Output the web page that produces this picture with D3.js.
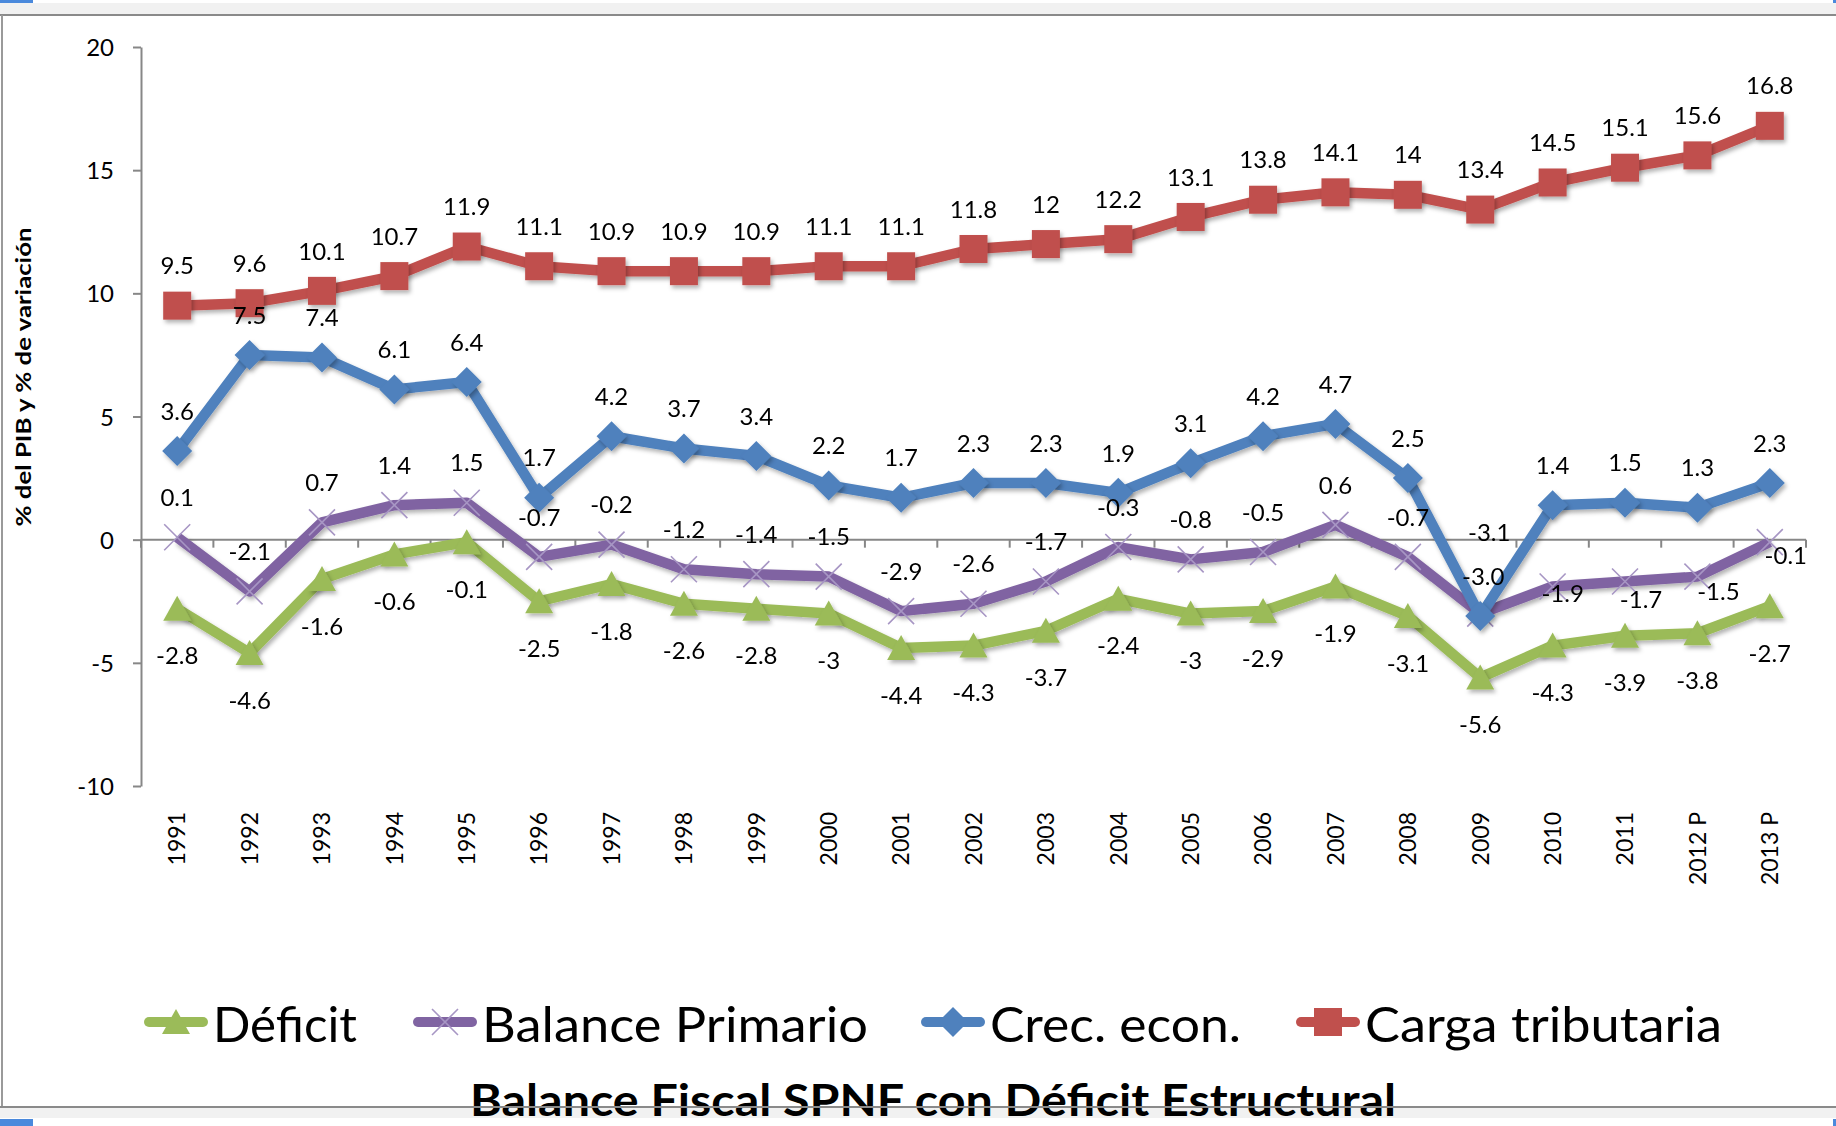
<!DOCTYPE html>
<html><head><meta charset="utf-8">
<script src="https://cdn.jsdelivr.net/npm/d3@7"></script>
<style>
body{margin:0;background:#fff;}
svg{display:block;}
text{font-family:Lato,"Open Sans",sans-serif;fill:#000;}
</style>
</head><body>
<svg id="c" width="1836" height="1126"></svg>
<script>
// ---------- DATA ----------
const years = ["1991","1992","1993","1994","1995","1996","1997","1998","1999","2000","2001","2002","2003","2004","2005","2006","2007","2008","2009","2010","2011","2012 P","2013 P"];
const deficit = [-2.8,-4.6,-1.6,-0.6,-0.1,-2.5,-1.8,-2.6,-2.8,-3,-4.4,-4.3,-3.7,-2.4,-3,-2.9,-1.9,-3.1,-5.6,-4.3,-3.9,-3.8,-2.7];
const balancePrimario = [0.1,-2.1,0.7,1.4,1.5,-0.7,-0.2,-1.2,-1.4,-1.5,-2.9,-2.6,-1.7,-0.3,-0.8,-0.5,0.6,-0.7,-3.0,-1.9,-1.7,-1.5,-0.1];
const crecEcon = [3.6,7.5,7.4,6.1,6.4,1.7,4.2,3.7,3.4,2.2,1.7,2.3,2.3,1.9,3.1,4.2,4.7,2.5,-3.1,1.4,1.5,1.3,2.3];
const cargaTributaria = [9.5,9.6,10.1,10.7,11.9,11.1,10.9,10.9,10.9,11.1,11.1,11.8,12,12.2,13.1,13.8,14.1,14,13.4,14.5,15.1,15.6,16.8];
const seriesNames = ["Déficit","Balance Primario","Crec. econ.","Carga tributaria"];
const yTicks = [20,15,10,5,0,-5,-10];
const yDomain = [-10,20];
const labelTextOverride = {"Balance Primario|2009":"-3.0"};
const titleText = "Balance Fiscal SPNF con Déficit Estructural";
const yTitleText = "% del PIB y % de variación";

// ---------- STYLE / LAYOUT ----------
const seriesStyle = {
  "Déficit":          {color:"#9BBB59", marker:"triangle", labelPos:"below"},
  "Balance Primario": {color:"#8064A2", marker:"x",        labelPos:"above"},
  "Crec. econ.":      {color:"#4F81BD", marker:"diamond",  labelPos:"above"},
  "Carga tributaria": {color:"#C0504D", marker:"square",   labelPos:"above"}
};
const labelNudge = {
  "Crec. econ.|2009":[9,-44],
  "Balance Primario|2009":[3,3],
  "Balance Primario|2010":[10,47],
  "Balance Primario|2011":[16,58],
  "Balance Primario|2012 P":[21,55],
  "Balance Primario|2013 P":[16,53]
};
const legendX = [144,413,921,1296];
const legendTextLen = [144,386,251,357];

const seriesValues = {
  "Déficit":deficit, "Balance Primario":balancePrimario,
  "Crec. econ.":crecEcon, "Carga tributaria":cargaTributaria
};

const svg = d3.select("#c");
const defs = svg.append("defs");
const f = defs.append("filter").attr("id","sh").attr("x","-30%").attr("y","-30%").attr("width","160%").attr("height","160%");
f.append("feDropShadow").attr("dx",2).attr("dy",3).attr("stdDeviation",2).attr("flood-color","#000").attr("flood-opacity",0.3);

// chrome
svg.append("rect").attr("x",0).attr("y",0).attr("width",1836).attr("height",1126).attr("fill","#fff");
svg.append("rect").attr("x",0).attr("y",3).attr("width",1836).attr("height",12).attr("fill","#f1f1f1");
svg.append("rect").attr("x",0).attr("y",0).attr("width",33).attr("height",3).attr("fill","#4a89dc");
svg.append("rect").attr("x",1833).attr("y",0).attr("width",3).attr("height",3).attr("fill","#4a89dc");
svg.append("rect").attr("x",0).attr("y",1108).attr("width",1836).attr("height",10).attr("fill","#f1f1f1");
svg.append("rect").attr("x",0).attr("y",1119).attr("width",33).attr("height",7).attr("fill","#4a89dc");
svg.append("rect").attr("x",1833).attr("y",1119).attr("width",3).attr("height",7).attr("fill","#4a89dc");
svg.append("line").attr("x1",0).attr("x2",1836).attr("y1",15).attr("y2",15).attr("stroke","#8a8a8a").attr("stroke-width",2);
svg.append("line").attr("x1",2).attr("x2",2).attr("y1",15).attr("y2",1107).attr("stroke","#9a9a9a").attr("stroke-width",2);

// scales
const plotL = 141, plotR = 1806, plotT = 47, plotB = 786;
const x = d3.scaleBand().domain(years).range([plotL,plotR]).padding(0);
const cx = d => x(d) + x.bandwidth()/2;
const y = d3.scaleLinear().domain(yDomain).range([plotB,plotT]);
const y0 = y(0);

// y axis
const yAxis = svg.append("g").attr("transform",`translate(${plotL},0)`)
  .call(d3.axisLeft(y).tickValues(yTicks).tickSize(8).tickSizeOuter(0).tickPadding(19).tickFormat(d=>String(d)));
yAxis.select(".domain").attr("stroke","#878787").attr("stroke-width",2);
yAxis.selectAll(".tick line").attr("stroke","#878787").attr("stroke-width",2);
yAxis.selectAll(".tick text").attr("font-size",24).attr("font-family","Lato").attr("fill","#000").attr("dy","0.36em");

// x axis at zero
const xg = svg.append("g");
xg.append("line").attr("x1",plotL).attr("x2",plotR).attr("y1",y0).attr("y2",y0).attr("stroke","#878787").attr("stroke-width",2);
xg.selectAll("line.tk").data(d3.range(years.length+1)).join("line").attr("class","tk")
  .attr("x1",i=>plotL+i*x.bandwidth()).attr("x2",i=>plotL+i*x.bandwidth())
  .attr("y1",y0).attr("y2",y0+8).attr("stroke","#878787").attr("stroke-width",2);
svg.append("g").selectAll("text").data(years).join("text")
  .attr("transform",d=>`translate(${cx(d)},812) rotate(-90)`)
  .attr("text-anchor","end").attr("dy","0.36em").attr("font-size",23).text(d=>d);

// y title
svg.append("text").attr("transform","translate(31,377) rotate(-90)")
  .attr("text-anchor","middle").attr("font-size",21).attr("font-weight",700)
  .attr("textLength",299).attr("lengthAdjust","spacingAndGlyphs").text(yTitleText);

// marker drawer
function drawMarker(g, type, color){
  if(type==="square"){
    g.append("rect").attr("x",-14).attr("y",-14).attr("width",28).attr("height",28).attr("fill",color);
  } else if(type==="diamond"){
    g.append("path").attr("d","M0,-15L15,0L0,15L-15,0Z").attr("fill",color);
  } else if(type==="triangle"){
    g.append("path").attr("d","M0,-13L14,12L-14,12Z").attr("fill",color);
  } else if(type==="x"){
    g.append("path").attr("d","M-13,-13L13,13M-13,13L13,-13").attr("stroke","#a796c4").attr("stroke-width",1.6).attr("fill","none");
  }
}

// series
const line = d3.line().x(d=>cx(d.year)).y(d=>y(d.v));
seriesNames.forEach(name=>{
  const st = seriesStyle[name];
  const pts = years.map((yr,i)=>({year:yr, v:seriesValues[name][i]}));
  const g = svg.append("g");
  g.append("path").datum(pts).attr("d",line).attr("fill","none").attr("stroke",st.color)
    .attr("stroke-width",10.5).attr("stroke-linejoin","round").attr("filter","url(#sh)");
  const mg = g.append("g").attr("filter", st.marker==="x" ? null : "url(#sh)");
  pts.forEach(p=>{
    const m = mg.append("g").attr("transform",`translate(${cx(p.year)},${y(p.v)})`);
    drawMarker(m, st.marker, st.color);
  });
});

// labels
const lg = svg.append("g");
seriesNames.forEach(name=>{
  const st = seriesStyle[name];
  years.forEach((yr,i)=>{
    const v = seriesValues[name][i];
    const key = name+"|"+yr;
    const nd = labelNudge[key] || [0,0];
    const off = st.labelPos==="above" ? -40 : 47;
    lg.append("text").attr("x",cx(yr)+nd[0]).attr("y",y(v)+off+nd[1])
      .attr("text-anchor","middle").attr("dy","0.36em").attr("font-size",24)
      .text(labelTextOverride[key] || String(v));
  });
});

// legend
const legY = 1022;
seriesNames.forEach((name,i)=>{
  const st = seriesStyle[name];
  const g = svg.append("g").attr("transform",`translate(${legendX[i]},0)`);
  g.append("line").attr("x1",5).attr("x2",59).attr("y1",legY).attr("y2",legY)
    .attr("stroke",st.color).attr("stroke-width",10).attr("stroke-linecap","round");
  const m = g.append("g").attr("transform",`translate(32,${legY})`);
  drawMarker(m, st.marker, st.color);
  g.append("text").attr("x",69).attr("y",1042).attr("font-size",49)
    .attr("textLength",legendTextLen[i]).attr("lengthAdjust","spacingAndGlyphs").text(name);
});

// title + bottom line over it
svg.append("text").attr("x",470).attr("y",1116).attr("font-size",44).attr("font-weight",700)
  .attr("textLength",926).attr("lengthAdjust","spacingAndGlyphs").text(titleText);
svg.append("line").attr("x1",0).attr("x2",1836).attr("y1",1107).attr("y2",1107).attr("stroke","#8a8a8a").attr("stroke-width",2);
</script>
</body></html>
